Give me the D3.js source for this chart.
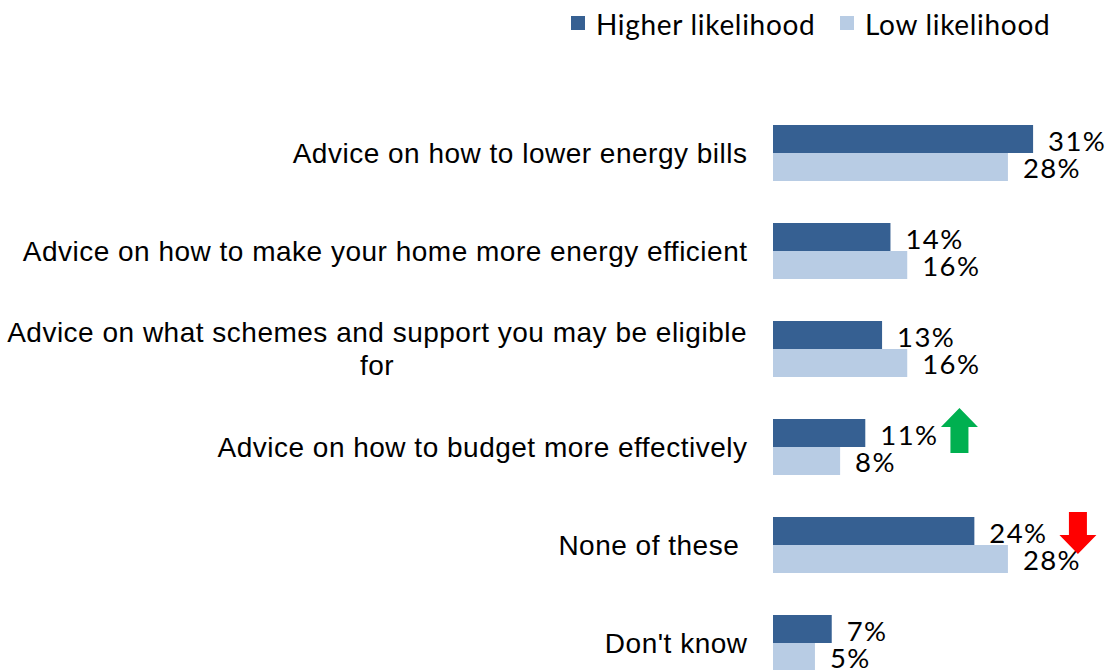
<!DOCTYPE html>
<html>
<head>
<meta charset="utf-8">
<script src="https://cdn.jsdelivr.net/npm/d3@7"></script>
<style>
  html, body { margin: 0; padding: 0; background: #fff; }
  svg { display: block; }
  text { white-space: pre; }
</style>
</head>
<body>
<svg id="chart" width="1108" height="670"></svg>
<script>
// Support options and share of respondents choosing each, by likelihood group
const categories = [
  ["Advice on how to lower energy bills"],
  ["Advice on how to make your home more energy efficient"],
  ["Advice on what schemes and support you may be eligible", "for"],
  ["Advice on how to budget more effectively"],
  ["None of these "],
  ["Don't know"]
];
const seriesNames = ["Higher likelihood", "Low likelihood"];
const higherValues = [31, 14, 13, 11, 24, 7];
const lowValues = [28, 16, 16, 8, 28, 5];
// Significant differences: +1 up (higher), -1 down (lower), 0 none
const changeFlags = [0, 0, 0, 1, -1, 0];

const colors = { "Higher likelihood": "#366092", "Low likelihood": "#B8CCE4" };

const svg = d3.select("#chart");
const keys = categories.map((c, i) => i);

const x = d3.scaleLinear().domain([0, 100]).range([773, 773 + 839]);
const y0 = d3.scaleBand().domain(keys).range([104, 692]).paddingInner(0.4286).paddingOuter(0.2143);
const y1 = d3.scaleBand().domain(seriesNames).range([0, y0.bandwidth()]);

const rows = keys.map(i => ({
  i,
  vals: [
    { s: seriesNames[0], v: higherValues[i] },
    { s: seriesNames[1], v: lowValues[i] }
  ]
}));

const groups = svg.append("g").selectAll("g.grp").data(rows).join("g")
  .attr("class", "grp")
  .attr("transform", d => `translate(0,${y0(d.i)})`);

groups.selectAll("rect").data(d => d.vals).join("rect")
  .attr("x", x(0))
  .attr("y", d => y1(d.s))
  .attr("width", d => x(d.v) - x(0))
  .attr("height", y1.bandwidth())
  .attr("fill", d => colors[d.s]);

groups.selectAll("text.val").data(d => d.vals).join("text")
  .attr("class", "val")
  .attr("x", d => x(d.v) + 15)
  .attr("y", d => y1(d.s) + y1.bandwidth() / 2 + 1)
  .attr("dominant-baseline", "central")
  .attr("font-family", "Lato, 'Open Sans', sans-serif")
  .attr("font-size", 27.5)
  .attr("letter-spacing", 1.4)
  .attr("fill", "#000")
  .text(d => d.v + "%");

// Category labels (wrapped ones are centred as a block, right edge at the axis)
const labelRight = 747;
const lineH = 33;
const labelG = svg.append("g")
  .attr("font-family", "'Liberation Sans', Arial, sans-serif")
  .attr("font-size", 28)
  .attr("letter-spacing", 0.5)
  .attr("fill", "#000");

rows.forEach(d => {
  const lines = categories[d.i];
  const cy = y0(d.i) + y0.bandwidth() / 2;
  if (lines.length === 1) {
    labelG.append("text")
      .attr("dominant-baseline", "central")
      .attr("text-anchor", "end").attr("x", labelRight + 0.5).attr("y", cy).text(lines[0]);
  } else {
    const tmp = labelG.append("text").text(lines[0]);
    const w = tmp.node().getComputedTextLength();
    tmp.remove();
    const cx = labelRight - w / 2;
    lines.forEach((ln, k) => {
      labelG.append("text")
        .attr("dominant-baseline", "central")
        .attr("text-anchor", "middle")
        .attr("x", cx)
        .attr("y", cy + (k - (lines.length - 1) / 2) * lineH)
        .text(ln);
    });
  }
});

// Significance arrows, placed beside the value labels
const valueNodes = groups.selectAll("text.val").nodes();
const arrowG = svg.append("g");
const headW = 37, shaftW = 18, headH = 19;
rows.forEach(d => {
  const flag = changeFlags[d.i];
  if (!flag) return;
  const top = y0(d.i);
  if (flag > 0) {
    const lab = valueNodes[d.i * 2].getBBox();
    const cx = lab.x + lab.width + 21;
    const ty = top - 11, total = 45;
    const pts = [
      [cx, ty], [cx + headW / 2, ty + headH], [cx + shaftW / 2, ty + headH],
      [cx + shaftW / 2, ty + total], [cx - shaftW / 2, ty + total],
      [cx - shaftW / 2, ty + headH], [cx - headW / 2, ty + headH]
    ];
    arrowG.append("polygon").attr("points", pts.map(p => p.join(",")).join(" ")).attr("fill", "#00B050");
  } else {
    const cx = x(Math.max(higherValues[d.i], lowValues[d.i])) + 70;
    const ty = top - 5, total = 42;
    const pts = [
      [cx - shaftW / 2, ty], [cx + shaftW / 2, ty], [cx + shaftW / 2, ty + total - headH],
      [cx + headW / 2, ty + total - headH], [cx, ty + total],
      [cx - headW / 2, ty + total - headH], [cx - shaftW / 2, ty + total - headH]
    ];
    arrowG.append("polygon").attr("points", pts.map(p => p.join(",")).join(" ")).attr("fill", "#FF0000");
  }
});

// Legend
const legend = svg.append("g")
  .attr("font-family", "Lato, 'Open Sans', sans-serif")
  .attr("font-size", 28)
  .attr("letter-spacing", 0.7);
const legendX = [571, 840];
seriesNames.forEach((s, k) => {
  legend.append("rect")
    .attr("x", legendX[k]).attr("y", 16)
    .attr("width", 14).attr("height", 14)
    .attr("fill", colors[s]);
  legend.append("text")
    .attr("x", legendX[k] + 25).attr("y", 24)
    .attr("dominant-baseline", "central")
    .text(s);
});
</script>
</body>
</html>
